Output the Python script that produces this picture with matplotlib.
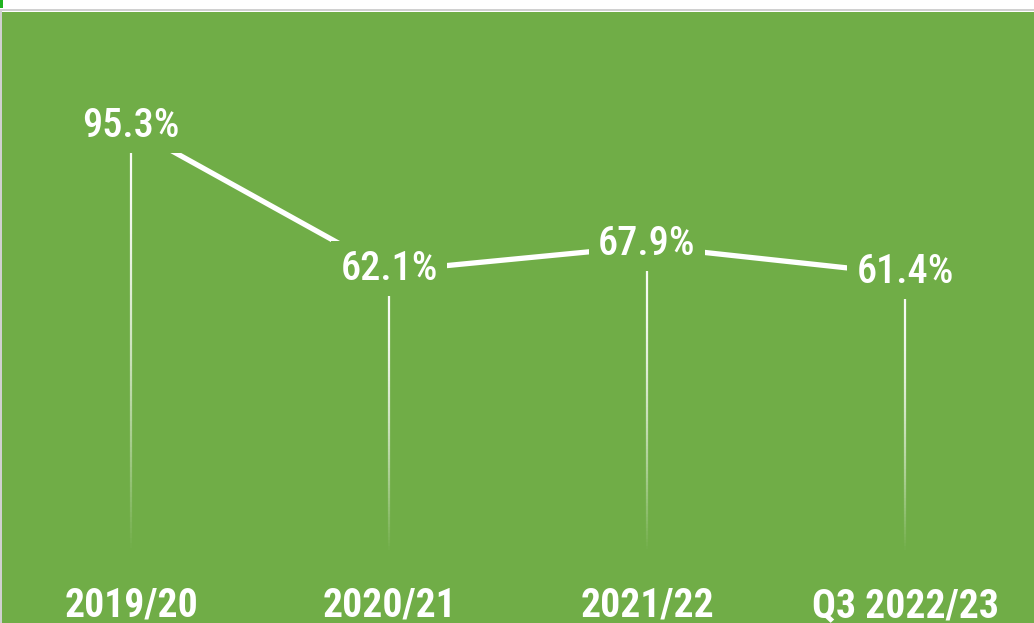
import numpy as np
import matplotlib as mpl
mpl.use('Agg')
import matplotlib.pyplot as plt
from matplotlib import font_manager
from matplotlib.collections import LineCollection
from matplotlib.patches import Rectangle

# data
categories = ['2019/20', '2020/21', '2021/22', 'Q3 2022/23']
values = [95.3, 62.1, 67.9, 61.4]
labels = ['95.3%', '62.1%', '67.9%', '61.4%']

GREEN = '#70AD47'


def weight_num(w):
  if isinstance(w, int):
    return w
  return {'normal': 400, 'regular': 400, 'book': 400, 'medium': 500, 'light': 300,
          'semibold': 600, 'demibold': 600, 'bold': 700, 'heavy': 800, 'black': 900}.get(str(w).lower(), 400)


def pick_font(target):
  # look for a narrow / condensed face first, fall back to Liberation Sans
  fonts = font_manager.fontManager.ttflist
  for key in ['Liberation Sans Narrow', 'Arial Narrow', 'Roboto Condensed',
              'DejaVu Sans Condensed', 'Open Sans Condensed']:
    hits = []
    for f in fonts:
      flat = f.fname.lower().replace('-', '').replace('_', '')
      if (key.lower() in f.name.lower() or key.lower().replace(' ', '') in flat) and f.style == 'normal':
        hits.append(f)
    if hits:
      best = min(hits, key=lambda f: abs(weight_num(f.weight) - target))
      return font_manager.FontProperties(fname=best.fname), True
  w = 'bold' if target >= 600 else 'normal'
  return font_manager.FontProperties(family='Liberation Sans', weight=w), False


fp_val, val_narrow = pick_font(480)
fp_cat, cat_narrow = pick_font(700)
fp_val.set_size(29 if val_narrow else 24.5)
fp_cat.set_size(28.5 if cat_narrow else 25)

W, H = 1034, 623
fig = plt.figure(figsize=(W / 100, H / 100), dpi=100)
fig.patch.set_facecolor('white')

# frame bits: grey rule at top, grey left edge, little green tab
fig.patches.append(Rectangle((0, (H - 11) / H), 1, 1.5 / H, transform=fig.transFigure,
                             facecolor='#d0d0d0', edgecolor='none'))
fig.patches.append(Rectangle((0, 0), 2 / W, (H - 10) / H, transform=fig.transFigure,
                             facecolor='#d0d0d0', edgecolor='none'))
fig.patches.append(Rectangle((0, (H - 8) / H), 2.5 / W, 8 / H, transform=fig.transFigure,
                             facecolor='#1fb31f', edgecolor='none'))

ax = fig.add_axes([2 / W, 0, (W - 2) / W, (H - 11.5) / H])
ax.set_facecolor(GREEN)
for s in ax.spines.values():
  s.set_visible(False)
ax.set_xticks([])
ax.set_yticks([])
ax.set_xlim(-0.5, 3.5)
ax.set_ylim(-19.6, 122.4)

x = np.arange(len(values))
ax.plot(x, values, color='white', linewidth=3.8, solid_capstyle='butt', zorder=2)

# fading drop lines
bottom = -3.3
for xi, v in zip(x, values):
  top = v - 5.8
  ys = np.linspace(top, bottom, 80)
  segs = [[(xi, ys[i]), (xi, ys[i + 1])] for i in range(len(ys) - 1)]
  t = np.linspace(0, 1, len(segs))
  alpha = np.clip(1 - t ** 1.6, 0, 1) * 0.95
  cols = [(1, 1, 1, a) for a in alpha]
  ax.add_collection(LineCollection(segs, colors=cols, linewidths=1.6, zorder=1))

for xi, v, lab in zip(x, values, labels):
  ax.text(xi, v + 0.6, lab, ha='center', va='center', color='white',
          fontproperties=fp_val, zorder=3,
          bbox=dict(boxstyle='square,pad=0.22', facecolor=GREEN, edgecolor='none'))

for xi, c in zip(x, categories):
  ax.text(xi, -15.6, c, ha='center', va='center', color='white',
          fontproperties=fp_cat, zorder=3)

fig.savefig('out.png', dpi=100, facecolor=fig.get_facecolor())
